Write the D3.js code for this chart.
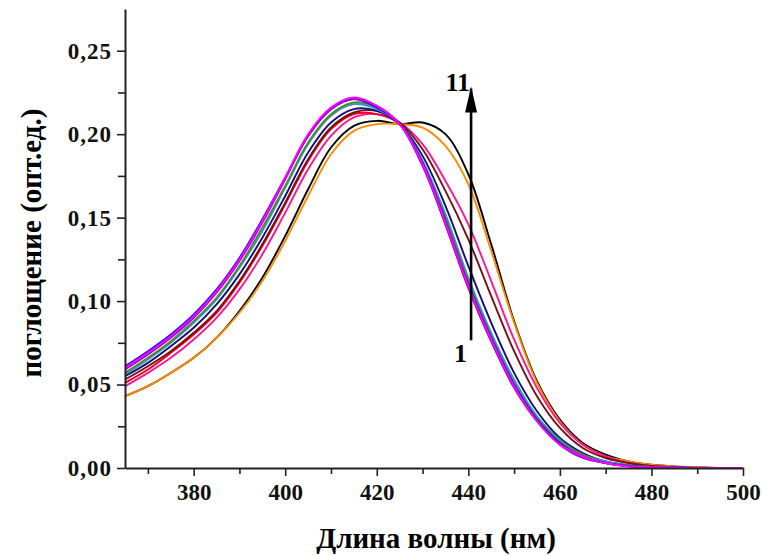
<!DOCTYPE html>
<html><head><meta charset="utf-8">
<script src="https://cdn.jsdelivr.net/npm/d3@7"></script>
<style>body{margin:0;background:#fff}svg{display:block}</style>
</head><body><svg id="c" width="763" height="556"></svg>
<script>
const wavelengths = [365,370,375,380,385,390,395,400,405,410,415,420,425,430,435,440,445,450,455,460,465,470,475,480,485,490,495,500];
const seriesNames = ["black","orange","pink","red","brown","navy","teal","green","blue","purple","magenta"];
const seriesColors = ["#000000","#ff8c00","#ff1493","#e8001c","#7b1010","#10107a","#3a8fd0","#4f8a2a","#1a1aff","#9400d3","#ff00ff"];
const blackVals   = [.043,.049,.057,.066,.078,.094,.114,.139,.167,.192,.205,.208,.206,.207,.200,.176,.134,.088,.052,.029,.015,.008,.004,.002,.001,.0005,0,0];
const orangeVals  = [.043,.049,.057,.066,.078,.093,.112,.136,.163,.188,.202,.206,.206,.204,.193,.170,.130,.087,.051,.028,.014,.007,.004,.002,.001,.0005,0,0];
const pinkVals    = [.049,.057,.066,.077,.090,.107,.128,.153,.179,.199,.210,.212,.207,.194,.172,.146,.112,.077,.048,.027,.014,.007,.003,.0013,.0005,0,0,0];
const redVals     = [.051,.059,.069,.080,.093,.111,.133,.158,.184,.203,.212,.212,.206,.182,.146,.108,.076,.049,.029,.015,.007,.003,.0012,.0005,0,0,0,0];
const brownVals   = [.053,.061,.070,.081,.094,.112,.134,.159,.185,.204,.213,.214,.207,.191,.166,.137,.103,.070,.043,.024,.012,.006,.003,.0012,.0005,0,0,0];
const navyVals    = [.055,.063,.073,.084,.098,.116,.138,.163,.189,.207,.215,.214,.206,.187,.157,.121,.087,.057,.034,.018,.009,.004,.0017,.0006,.0002,0,0,0];
const tealVals    = [.056,.065,.075,.087,.101,.120,.142,.168,.194,.211,.218,.215,.206,.184,.152,.114,.081,.053,.031,.017,.008,.004,.0015,.0006,.0002,0,0,0];
const greenVals   = [.057,.066,.076,.088,.102,.121,.144,.169,.195,.212,.219,.216,.206,.183,.150,.112,.079,.051,.030,.016,.008,.003,.0015,.0006,.0002,0,0,0];
const blueVals    = [.061,.070,.080,.092,.107,.126,.149,.174,.199,.215,.221,.216,.206,.183,.148,.110,.078,.050,.029,.015,.007,.003,.0012,.0005,.0002,0,0,0];
const purpleVals  = [.059,.068,.078,.090,.105,.124,.147,.173,.199,.215,.221,.217,.206,.181,.146,.108,.076,.048,.028,.014,.006,.003,.001,.0005,.0002,0,0,0];
const magentaVals = [.060,.069,.079,.091,.106,.125,.148,.174,.200,.216,.222,.217,.206,.182,.147,.109,.077,.049,.028,.014,.007,.003,.001,.0005,.0002,0,0,0];
const seriesValues = [blackVals,orangeVals,pinkVals,redVals,brownVals,navyVals,tealVals,greenVals,blueVals,purpleVals,magentaVals];
const xTicks = [380,400,420,440,460,480,500];
const xMinorTicks = [370,390,410,430,450,470,490];
const yTicks = [0,0.05,0.10,0.15,0.20,0.25];
const yMinorTicks = [0.025,0.075,0.125,0.175,0.225];
const xTitle = "Длина волны (нм)";
const yTitle = "поглощение (опт.ед.)";
const arrowFrom = 0.0765, arrowTo = 0.2285, arrowAt = 440.6;
const labelStart = "1", labelEnd = "11";

const svg = d3.select("#c");
const x = d3.scaleLinear().domain([365,500]).range([125,743]);
const y = d3.scaleLinear().domain([0,0.275]).range([468,9]);
const font = "'Liberation Serif','Times New Roman',serif";

const line = d3.line().x((d,i)=>x(wavelengths[i])).y(d=>y(d)).curve(d3.curveCatmullRom.alpha(0.5));
svg.append("g").selectAll("path").data(seriesValues).join("path")
  .attr("d", d=>line(d)).attr("fill","none")
  .attr("stroke",(d,i)=>seriesColors[i]).attr("stroke-width",1.9);

const fmt = d=>d3.format(".2f")(d).replace(".",",");
function styleAxis(g){
  g.select(".domain").attr("stroke","#222").attr("stroke-width",2);
  g.selectAll(".tick line").attr("stroke","#222").attr("stroke-width",1.6);
  g.selectAll(".tick text").attr("font-family",font).attr("font-weight","bold").attr("font-size",23).attr("fill","#111");
}
const gxMinor = svg.append("g").attr("transform","translate(0,468)")
  .call(d3.axisBottom(x).tickValues(xMinorTicks).tickSize(6).tickFormat(""));
gxMinor.select(".domain").remove();
gxMinor.selectAll(".tick line").attr("stroke","#222").attr("stroke-width",1.6);
const gx = svg.append("g").attr("transform","translate(0,468)")
  .call(d3.axisBottom(x).tickValues(xTicks).tickSize(8).tickSizeOuter(0).tickPadding(8).tickFormat(d3.format("d")));
styleAxis(gx);
const gyMinor = svg.append("g").attr("transform","translate(125,0)")
  .call(d3.axisLeft(y).tickValues(yMinorTicks).tickSize(7).tickFormat(""));
gyMinor.select(".domain").remove();
gyMinor.selectAll(".tick line").attr("stroke","#222").attr("stroke-width",1.6);
const gy = svg.append("g").attr("transform","translate(125,0)")
  .call(d3.axisLeft(y).tickValues(yTicks).tickSize(8).tickSizeOuter(0).tickPadding(5).tickFormat(fmt));
styleAxis(gy);
gy.selectAll(".tick text").attr("letter-spacing",1);

svg.append("text").attr("x",436).attr("y",548).attr("text-anchor","middle")
  .attr("font-family",font).attr("font-weight","bold").attr("font-size",29).text(xTitle);
svg.append("text").attr("transform","translate(41,243) rotate(-90)").attr("text-anchor","middle")
  .attr("font-family",font).attr("font-weight","bold").attr("font-size",29).text(yTitle);

// arrow
const ax = x(arrowAt);
svg.append("line").attr("x1",ax).attr("x2",ax).attr("y1",y(arrowFrom)).attr("y2",y(arrowTo)+2)
  .attr("stroke","#000").attr("stroke-width",2.6);
svg.append("path").attr("d",`M${ax-6},${y(arrowTo)+26} L${ax},${y(arrowTo)} L${ax+6},${y(arrowTo)+26} Z`).attr("fill","#000");
svg.append("text").attr("x",ax-1).attr("y",91).attr("text-anchor","end")
  .attr("font-family",font).attr("font-weight","bold").attr("font-size",26).text(labelEnd);
svg.append("text").attr("x",ax-4).attr("y",362).attr("text-anchor","end")
  .attr("font-family",font).attr("font-weight","bold").attr("font-size",26).text(labelStart);
</script></body></html>
